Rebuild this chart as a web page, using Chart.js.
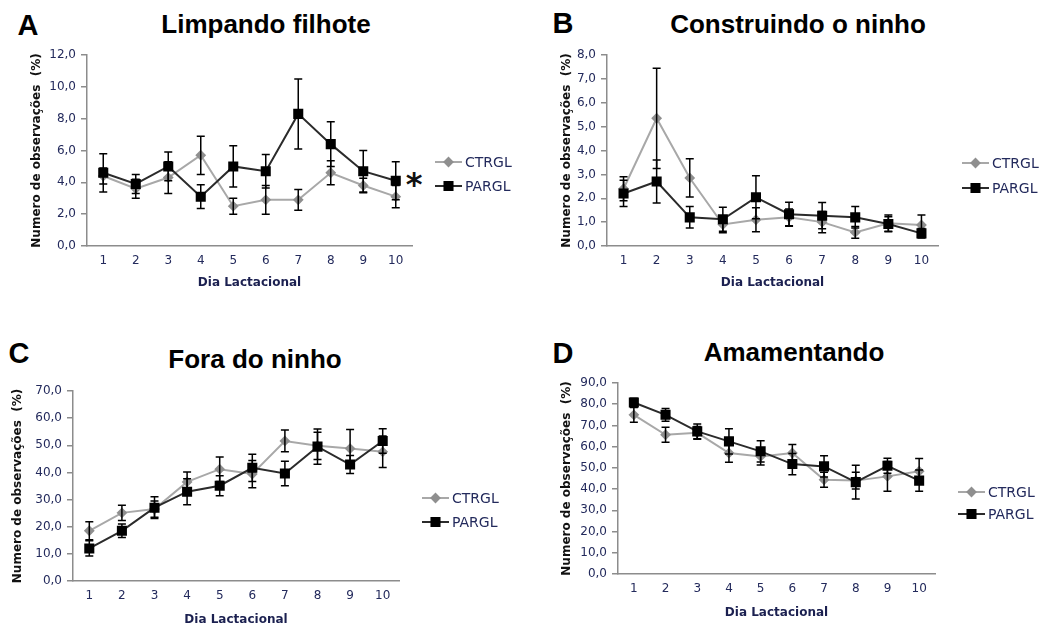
<!DOCTYPE html>
<html>
<head>
<meta charset="utf-8">
<script src="https://cdn.jsdelivr.net/npm/chart.js@4.4.0/dist/chart.umd.min.js"></script>
<style>
    body { margin: 0; background: #fff; width: 1051px; height: 628px; position: relative; overflow: hidden; font-family: "Liberation Sans", Arial, sans-serif; }
    canvas { position: absolute; }
    .lbl { position: absolute; transform: translate(-50%, -50%); line-height: 1; font-weight: bold; color: #000; white-space: nowrap; }
    .letter { font-size: 29px; }
    .title { font-size: 26px; }
    .star { position: absolute; transform: translate(-50%, 0); line-height: 1; font: bold 32px "DejaVu Sans", sans-serif; color: #111; }
</style>
</head>
<body>
<div class="lbl letter" style="left:28px;top:25px">A</div>
<div class="lbl title" style="left:266px;top:24px">Limpando filhote</div>
<div class="lbl letter" style="left:563px;top:23px">B</div>
<div class="lbl title" style="left:798px;top:24px">Construindo o ninho</div>
<div class="lbl letter" style="left:19px;top:353px">C</div>
<div class="lbl title" style="left:255px;top:359px">Fora do ninho</div>
<div class="lbl letter" style="left:563px;top:353px">D</div>
<div class="lbl title" style="left:794px;top:352px">Amamentando</div>
<div class="star" style="left:414px;top:165px">*</div>

<canvas id="chartA" width="525" height="270" style="left:0;top:40px"></canvas>
<canvas id="chartB" width="526" height="270" style="left:525px;top:40px"></canvas>
<canvas id="chartC" width="525" height="258" style="left:0;top:370px"></canvas>
<canvas id="chartD" width="526" height="258" style="left:525px;top:370px"></canvas>

<script>
// dia lactacional
const days = ['1', '2', '3', '4', '5', '6', '7', '8', '9', '10'];

// A - Limpando filhote
const ctrlLimpando = [4.4, 3.6, 4.3, 5.7, 2.5, 2.9, 2.9, 4.6, 3.8, 3.1];
const ctrlLimpandoErr = [0.5, 0.6, 1.0, 1.2, 0.5, 0.9, 0.65, 0.75, 0.45, 0.7];
const parLimpando = [4.6, 3.9, 5.0, 3.1, 5.0, 4.7, 8.3, 6.4, 4.7, 4.1];
const parLimpandoErr = [1.2, 0.6, 0.9, 0.75, 1.3, 1.05, 2.2, 1.4, 1.3, 1.2];

// B - Construindo o ninho
const ctrlNinho = [2.4, 5.35, 2.85, 0.9, 1.1, 1.2, 1.0, 0.57, 0.95, 0.88];
const ctrlNinhoErr = [0.5, 2.1, 0.8, 0.35, 0.5, 0.35, 0.45, 0.25, 0.35, 0.42];
const parNinho = [2.2, 2.7, 1.2, 1.12, 2.04, 1.33, 1.27, 1.2, 0.92, 0.53];
const parNinhoErr = [0.55, 0.9, 0.45, 0.5, 0.9, 0.5, 0.55, 0.45, 0.3, 0.2];

// C - Fora do ninho
const ctrlFora = [18.5, 25.1, 26.5, 36.5, 41.2, 39.4, 51.6, 49.8, 48.8, 47.6];
const ctrlForaErr = [3.3, 2.8, 3.0, 3.7, 4.5, 5.0, 4.0, 5.0, 7.0, 5.8];
const parFora = [12.0, 18.5, 27.0, 32.9, 35.1, 41.7, 39.6, 49.5, 42.9, 51.6];
const parForaErr = [2.8, 2.5, 4.0, 4.8, 3.7, 5.0, 4.5, 6.5, 3.3, 4.5];

// D - Amamentando
const ctrlAmam = [75.0, 65.6, 66.5, 57.0, 55.4, 57.0, 44.4, 44.0, 46.0, 48.4];
const ctrlAmamErr = [3.5, 3.5, 3.0, 4.3, 4.0, 4.0, 3.5, 4.0, 7.0, 6.0];
const parAmam = [80.8, 75.0, 67.2, 62.5, 57.8, 51.8, 50.7, 43.3, 51.0, 44.0];
const parAmamErr = [2.0, 3.0, 3.5, 6.0, 5.0, 5.0, 5.0, 8.0, 3.5, 5.0];

const tickColor = '#232a5c';
const axisColor = '#8c8c8c';

// vertical error bars with caps
const errorBars = {
    id: 'errorBars',
    afterDatasetsDraw(chart) {
        const ctx = chart.ctx, xs = chart.scales.x, ys = chart.scales.y;
        chart.data.datasets.forEach(ds => {
            if (!ds.errors) return;
            ctx.save();
            ctx.strokeStyle = '#000';
            ctx.lineWidth = 1.5;
            ds.data.forEach((v, i) => {
                const e = ds.errors[i];
                const px = xs.getPixelForValue(i);
                const top = ys.getPixelForValue(v + e);
                const bot = ys.getPixelForValue(Math.max(0, v - e));
                ctx.beginPath();
                ctx.moveTo(px, top); ctx.lineTo(px, bot);
                ctx.moveTo(px - 4, top); ctx.lineTo(px + 4, top);
                ctx.moveTo(px - 4, bot); ctx.lineTo(px + 4, bot);
                ctx.stroke();
            });
            ctx.restore();
        });
    }
};

// legend: short line with marker, then label
const seriesKey = {
    id: 'seriesKey',
    afterDraw(chart, args, opts) {
        const ctx = chart.ctx, a = chart.chartArea;
        chart.data.datasets.forEach((ds, i) => {
            const x0 = a.right + opts.dx, y0 = a.top + opts.dy[i];
            ctx.save();
            ctx.strokeStyle = ds.borderColor;
            ctx.lineWidth = ds.borderWidth;
            ctx.beginPath(); ctx.moveTo(x0, y0); ctx.lineTo(x0 + 27, y0); ctx.stroke();
            ctx.fillStyle = ds.pointBackgroundColor;
            ctx.strokeStyle = ds.pointBorderColor;
            Chart.helpers.drawPoint(ctx, { pointStyle: ds.pointStyle, radius: ds.pointRadius, borderWidth: 1, rotation: 0 }, x0 + 13.5, y0);
            ctx.fillStyle = tickColor;
            ctx.font = '14px "DejaVu Sans"';
            ctx.textBaseline = 'middle';
            ctx.textAlign = 'left';
            ctx.fillText(ds.label, x0 + 30, y0 + 1);
            ctx.restore();
        });
    }
};

function makePanel(id, ctrl, ctrlErr, par, parErr, yMax, yStep, yW, xH, pad, key) {
    new Chart(document.getElementById(id), {
        type: 'line',
        data: {
            labels: days,
            datasets: [
                {
                    label: 'CTRGL', data: ctrl, errors: ctrlErr,
                    borderColor: '#a8a8a8', borderWidth: 2,
                    pointStyle: 'rectRot', pointRadius: 4,
                    pointBackgroundColor: '#8f8f8f', pointBorderColor: '#8f8f8f',
                    order: 1
                },
                {
                    label: 'PARGL', data: par, errors: parErr,
                    borderColor: '#2b2b2b', borderWidth: 2,
                    pointStyle: 'rect', pointRadius: 5.7,
                    pointBackgroundColor: '#000', pointBorderColor: '#000',
                    order: 0
                }
            ]
        },
        options: {
            responsive: false,
            animation: false,
            devicePixelRatio: 1,
            events: [],
            layout: { padding: pad },
            plugins: { legend: { display: false }, tooltip: { enabled: false }, seriesKey: key },
            scales: {
                x: {
                    type: 'category', offset: true,
                    grid: { display: false, drawTicks: false },
                    border: { color: axisColor, width: 1.5 },
                    ticks: { color: tickColor, font: { family: 'DejaVu Sans', size: 12 }, padding: 8, maxRotation: 0, autoSkip: false },
                    title: { display: true, text: 'Dia Lactacional', color: '#1b2050', font: { family: 'DejaVu Sans', size: 12, weight: 'bold' }, padding: 0 },
                    afterFit(s) { s.height = xH; }
                },
                y: {
                    min: 0, max: yMax,
                    grid: { drawOnChartArea: false, drawTicks: true, tickLength: 6, color: axisColor, lineWidth: 1.5 },
                    border: { color: axisColor, width: 1.5 },
                    ticks: {
                        stepSize: yStep, padding: 5, color: tickColor,
                        font: { family: 'DejaVu Sans', size: 12 },
                        callback: v => v.toFixed(1).replace('.', ',')
                    },
                    title: { display: true, text: 'Numero de observações  (%)', color: '#111', font: { family: 'DejaVu Sans', size: 12, weight: 'bold' }, padding: 0 },
                    afterFit(s) { s.width = yW; }
                }
            }
        },
        plugins: [errorBars, seriesKey]
    });
}

makePanel('chartA', ctrlLimpando, ctrlLimpandoErr, parLimpando, parLimpandoErr, 12, 2, 57, 44,
    { left: 30, right: 113, top: 15, bottom: 20 }, { dx: 23, dy: [107, 131] });
makePanel('chartB', ctrlNinho, ctrlNinhoErr, parNinho, parNinhoErr, 8, 1, 47, 44,
    { left: 35, right: 113, top: 15, bottom: 20 }, { dx: 24, dy: [108, 133] });
makePanel('chartC', ctrlFora, ctrlForaErr, parFora, parForaErr, 70, 10, 62, 46,
    { left: 11, right: 126, top: 21, bottom: 1 }, { dx: 23, dy: [107, 131] });
makePanel('chartD', ctrlAmam, ctrlAmamErr, parAmam, parAmamErr, 90, 10, 58, 46,
    { left: 35, right: 116, top: 13, bottom: 8 }, { dx: 23, dy: [109, 131] });
</script>
</body>
</html>
